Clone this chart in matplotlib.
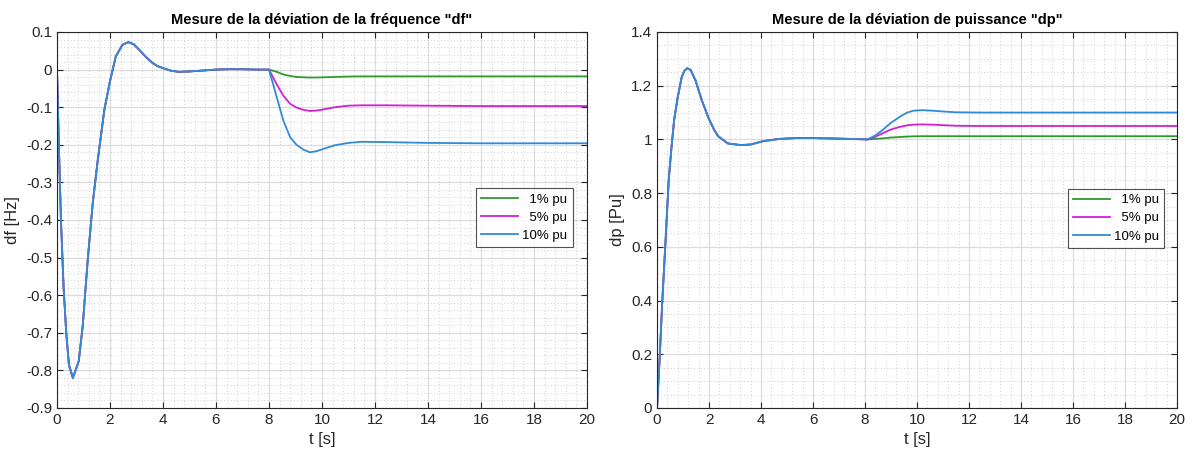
import numpy as np
import matplotlib
matplotlib.use("Agg")
import matplotlib.pyplot as plt
from matplotlib.ticker import MultipleLocator, FuncFormatter

plt.rcParams['font.family'] = ['Liberation Sans', 'DejaVu Sans']
plt.rcParams['axes.unicode_minus'] = False

# --- frequency deviation df (common part up to the load step at t = 8 s)
t_df_common = [0, 0.07, 0.15, 0.25, 0.35, 0.45, 0.6, 0.82, 0.97, 1.16, 1.35, 1.54, 1.79,
               2.0, 2.22, 2.47, 2.7, 2.9, 3.1, 3.35, 3.6, 3.8, 4.0, 4.3, 4.6, 5.0, 5.4,
               6.0, 6.5, 7.0, 7.5, 8.0]
df_common = [0, -0.2, -0.4, -0.58, -0.70, -0.785, -0.82, -0.776, -0.683, -0.506, -0.355,
             -0.24, -0.106, -0.031, 0.035, 0.066, 0.073, 0.067, 0.053, 0.034, 0.018, 0.009,
             0.004, -0.003, -0.006, -0.005, -0.003, 0.0, 0.001, 0.001, 0.0, 0.0]

t_df_step = [8.3, 8.54, 8.8, 9.04, 9.3, 9.55, 9.8, 10.05, 10.5, 11.0, 11.5, 12.5, 14, 16, 18, 20]
df_1 = [-0.006, -0.013, -0.017, -0.0195, -0.0205, -0.021, -0.021, -0.0205, -0.0195, -0.0185,
        -0.018, -0.018, -0.018, -0.018, -0.018, -0.018]
df_5 = [-0.040, -0.069, -0.091, -0.101, -0.107, -0.110, -0.109, -0.106, -0.100, -0.096,
        -0.095, -0.095, -0.096, -0.097, -0.097, -0.097]
df_10 = [-0.075, -0.135, -0.180, -0.200, -0.213, -0.220, -0.217, -0.211, -0.201, -0.195,
         -0.192, -0.193, -0.195, -0.196, -0.196, -0.196]

# --- power deviation dp
t_dp_common = [0, 0.1, 0.2, 0.33, 0.45, 0.56, 0.66, 0.79, 0.95, 1.05, 1.16, 1.29, 1.48,
               1.72, 1.98, 2.2, 2.35, 2.72, 3.22, 3.6, 4.1, 4.72, 5.35, 6.0, 7.0, 8.1]
dp_common = [0, 0.183, 0.393, 0.627, 0.85, 0.975, 1.074, 1.154, 1.232, 1.255, 1.265, 1.259,
             1.22, 1.146, 1.08, 1.035, 1.012, 0.985, 0.979, 0.981, 0.994, 1.002, 1.005,
             1.005, 1.003, 1.0]

t_dp_step = [8.4, 8.7, 9.0, 9.35, 9.6, 9.86, 10.2, 10.6, 11.0, 11.5, 12.5, 15, 20]
dp_1 = [1.002, 1.004, 1.007, 1.009, 1.0105, 1.0115, 1.012, 1.012, 1.012, 1.012, 1.012,
        1.012, 1.012]
dp_5 = [1.010, 1.024, 1.037, 1.047, 1.052, 1.055, 1.056, 1.055, 1.053, 1.051, 1.050,
        1.050, 1.050]
dp_10 = [1.015, 1.037, 1.062, 1.085, 1.099, 1.107, 1.109, 1.107, 1.104, 1.101, 1.100,
         1.100, 1.100]

labels = ['\u20071% pu', '\u20075% pu', '10% pu']
colors = ['#2e9a2e', '#d21fd2', '#2f8bd6']


def style_axes(ax, ymin, ymax, ymajor, yminor):
    ax.set_xlim(0, 20)
    ax.set_ylim(ymin, ymax)
    ax.xaxis.set_major_locator(MultipleLocator(2))
    ax.xaxis.set_minor_locator(MultipleLocator(0.4))
    ax.yaxis.set_major_locator(MultipleLocator(ymajor))
    ax.yaxis.set_minor_locator(MultipleLocator(yminor))
    fmt = FuncFormatter(lambda v, p: '%g' % round(v, 6))
    ax.xaxis.set_major_formatter(fmt)
    ax.yaxis.set_major_formatter(fmt)
    ax.grid(which='major', color='#dcdcdc', lw=0.9, ls='-')
    ax.grid(which='minor', color='#bdbdbd', lw=0.6, ls=(0, (1, 3)))
    ax.set_axisbelow(True)
    ax.tick_params(which='major', direction='in', length=4, top=True, right=True,
                   labelsize=11, colors='#262626', width=0.8)
    ax.tick_params(which='minor', length=0, top=True, right=True)
    for s in ax.spines.values():
        s.set_color('#262626')
        s.set_linewidth(0.8)
    ax.set_xlabel('t [s]', fontsize=12, color='#262626', labelpad=4)


fig = plt.figure(figsize=(11.92, 4.61), dpi=100)
ax1 = fig.add_axes([0.0478, 0.115, 0.4446, 0.8156])
ax2 = fig.add_axes([0.5512, 0.115, 0.4362, 0.8156])

for vals, lab, c in zip([df_1, df_5, df_10], labels, colors):
    ax1.plot(t_df_common + t_df_step, df_common + vals, color=c, lw=1.3, label=lab)
for vals, lab, c in zip([dp_1, dp_5, dp_10], labels, colors):
    ax2.plot(t_dp_common + t_dp_step, dp_common + vals, color=c, lw=1.3, label=lab)

style_axes(ax1, -0.9, 0.1, 0.1, 0.02)
style_axes(ax2, 0, 1.4, 0.2, 0.05)

ax1.set_ylabel('df [Hz]', fontsize=12, color='#262626', labelpad=4)
ax2.set_ylabel('dp [Pu]', fontsize=12, color='#262626', labelpad=4)
ax1.set_title('Mesure de la déviation de la fréquence "df"', fontsize=10.5,
              fontweight='bold', pad=6)
ax2.set_title('Mesure de la déviation de puissance "dp"', fontsize=10.5,
              fontweight='bold', pad=6)

for ax, anchor in [(ax1, (0.973, 0.585)), (ax2, (0.975, 0.583))]:
    leg = ax.legend(loc='upper right', bbox_to_anchor=anchor, fontsize=9.5,
                    frameon=True, fancybox=False, handlelength=2.8,
                    borderpad=0.4, labelspacing=0.45, handletextpad=0.3,
                    borderaxespad=0)
    leg.get_frame().set_edgecolor('#262626')
    leg.get_frame().set_linewidth(0.8)

fig.savefig('out.png', dpi=100)
